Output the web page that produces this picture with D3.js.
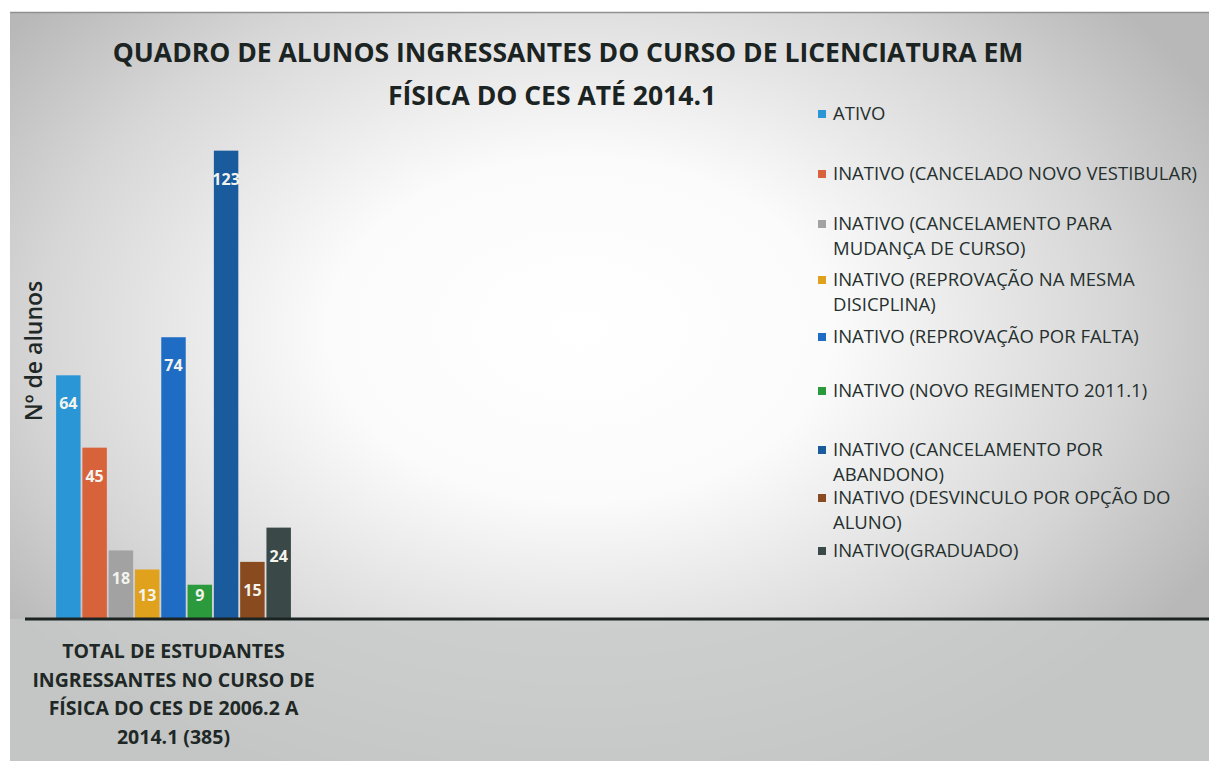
<!DOCTYPE html>
<html>
<head>
<meta charset="utf-8">
<script src="https://cdn.jsdelivr.net/npm/d3@7"></script>
<style>
  html, body { margin: 0; padding: 0; background: #fff; }
  svg text { font-family: "Open Sans", sans-serif; }
</style>
</head>
<body>
<div id="chart"></div>
<script>
// data
var category = "TOTAL DE ESTUDANTES INGRESSANTES NO CURSO DE FÍSICA DO CES DE 2006.2 A 2014.1 (385)";
var categoryLines = ["TOTAL DE ESTUDANTES", "INGRESSANTES NO CURSO DE", "FÍSICA DO CES DE 2006.2 A", "2014.1 (385)"];
var seriesNames = [
    "ATIVO",
    "INATIVO (CANCELADO NOVO VESTIBULAR)",
    "INATIVO (CANCELAMENTO PARA MUDANÇA DE CURSO)",
    "INATIVO (REPROVAÇÃO NA MESMA DISICPLINA)",
    "INATIVO (REPROVAÇÃO POR FALTA)",
    "INATIVO (NOVO REGIMENTO 2011.1)",
    "INATIVO (CANCELAMENTO POR ABANDONO)",
    "INATIVO (DESVINCULO POR OPÇÃO DO ALUNO)",
    "INATIVO(GRADUADO)"
];
var legendLines = [
    ["ATIVO"],
    ["INATIVO (CANCELADO NOVO VESTIBULAR)"],
    ["INATIVO (CANCELAMENTO PARA", "MUDANÇA DE CURSO)"],
    ["INATIVO (REPROVAÇÃO NA MESMA", "DISICPLINA)"],
    ["INATIVO (REPROVAÇÃO POR FALTA)"],
    ["INATIVO (NOVO REGIMENTO 2011.1)"],
    ["INATIVO (CANCELAMENTO POR", "ABANDONO)"],
    ["INATIVO (DESVINCULO POR OPÇÃO DO", "ALUNO)"],
    ["INATIVO(GRADUADO)"]
];
var values = [64, 45, 18, 13, 74, 9, 123, 15, 24];
var colors = ["#2b96d6", "#d8623a", "#a2a2a2", "#e0a11c", "#1f6cc4", "#2b9a3c", "#1a5b9e", "#8a4a1f", "#3a4847"];

var width = 1209, height = 761;
var baseY = 619;

var svg = d3.select("#chart").append("svg")
    .attr("width", width)
    .attr("height", height);

var defs = svg.append("defs");
var grad = defs.append("radialGradient")
    .attr("id", "bg")
    .attr("gradientUnits", "userSpaceOnUse")
    .attr("cx", 580).attr("cy", 330).attr("r", 720)
    .attr("gradientTransform", "translate(580,330) scale(1,0.68) translate(-580,-330)");
grad.append("stop").attr("offset", "0").attr("stop-color", "#ffffff");
grad.append("stop").attr("offset", "0.35").attr("stop-color", "#fbfbfb");
grad.append("stop").attr("offset", "0.75").attr("stop-color", "#d6d6d6");
grad.append("stop").attr("offset", "1").attr("stop-color", "#b8b8b8");

// page background
svg.append("rect").attr("width", width).attr("height", height).attr("fill", "#ffffff");
svg.append("rect")
    .attr("x", 10).attr("y", 12)
    .attr("width", width - 10).attr("height", height - 12)
    .attr("fill", "url(#bg)");
// grey area under baseline
svg.append("rect")
    .attr("x", 10).attr("y", baseY)
    .attr("width", width - 10).attr("height", height - baseY)
    .attr("fill", "#c6c9c7").attr("opacity", 0.8);
svg.append("line")
    .attr("x1", 10).attr("x2", width).attr("y1", 12.5).attr("y2", 12.5)
    .attr("stroke", "#8f9090").attr("stroke-width", 1.5);

// scales
var x0 = d3.scaleBand()
    .domain([category])
    .range([30, 317])
    .padding(0.1);
var x1 = d3.scaleBand()
    .domain(seriesNames)
    .range([0, x0.bandwidth()])
    .paddingInner(0.07);
var yScale = d3.scaleLinear()
    .domain([0, 130])
    .range([baseY, 124]);

// title
var title = svg.append("text")
    .attr("text-anchor", "middle")
    .attr("font-weight", "bold")
    .attr("font-size", 26.5)
    .attr("fill", "#1b2422");
title.append("tspan").attr("x", 568).attr("y", 62).text("QUADRO DE ALUNOS INGRESSANTES DO CURSO DE LICENCIATURA EM");
title.append("tspan").attr("x", 552).attr("y", 105).text("FÍSICA DO CES ATÉ 2014.1");

// bars
var g = svg.append("g").attr("transform", "translate(" + x0(category) + ",0)");
g.selectAll("rect.bar")
    .data(values)
    .enter()
    .append("rect")
    .attr("class", "bar")
    .attr("x", function (d, i) { return x1(seriesNames[i]); })
    .attr("y", function (d) { return yScale(d); })
    .attr("width", x1.bandwidth())
    .attr("height", function (d) { return yScale(0) - yScale(d); })
    .attr("fill", function (d, i) { return colors[i]; });

g.selectAll("text.val")
    .data(values)
    .enter()
    .append("text")
    .attr("class", "val")
    .attr("x", function (d, i) { return x1(seriesNames[i]) + x1.bandwidth() / 2; })
    .attr("y", function (d) { return Math.min(yScale(d) + 34, yScale(0) - 18); })
    .attr("text-anchor", "middle")
    .attr("font-weight", "bold")
    .attr("font-size", 16)
    .attr("fill", "#f4f4ee")
    .text(function (d) { return d; });

// baseline
svg.append("line")
    .attr("x1", 25).attr("x2", width)
    .attr("y1", yScale(0)).attr("y2", yScale(0))
    .attr("stroke", "#1b2422").attr("stroke-width", 3);

// category label
var cat = svg.append("text")
    .attr("text-anchor", "middle")
    .attr("font-weight", "bold")
    .attr("font-size", 19.5)
    .attr("fill", "#1f2826");
cat.selectAll("tspan")
    .data(categoryLines)
    .enter()
    .append("tspan")
    .attr("x", x0(category) + x0.bandwidth() / 2)
    .attr("y", function (d, i) { return 658 + i * 28.5; })
    .text(function (d) { return d; });

// y axis title
svg.append("text")
    .attr("transform", "translate(42,351) rotate(-90)")
    .attr("text-anchor", "middle")
    .attr("font-size", 23)
    .attr("font-weight", 600)
    .attr("fill", "#1f2826")
    .text("Nº de alunos");

// legend
var legendTop = [120, 180, 230, 286, 343, 397, 456, 504, 557];
var legend = svg.append("g");
var item = legend.selectAll("g.item")
    .data(seriesNames)
    .enter()
    .append("g")
    .attr("class", "item")
    .attr("transform", function (d, i) { return "translate(818," + legendTop[i] + ")"; });
item.append("rect")
    .attr("x", 0).attr("y", -10)
    .attr("width", 8).attr("height", 8)
    .attr("fill", function (d, i) { return colors[i]; });
item.append("text")
    .attr("font-size", 18.5)
    .attr("fill", "#25302e")
    .selectAll("tspan")
    .data(function (d, i) { return legendLines[i]; })
    .enter()
    .append("tspan")
    .attr("x", 15)
    .attr("y", function (d, j) { return j * 25; })
    .text(function (d) { return d; });
</script>
</body>
</html>
